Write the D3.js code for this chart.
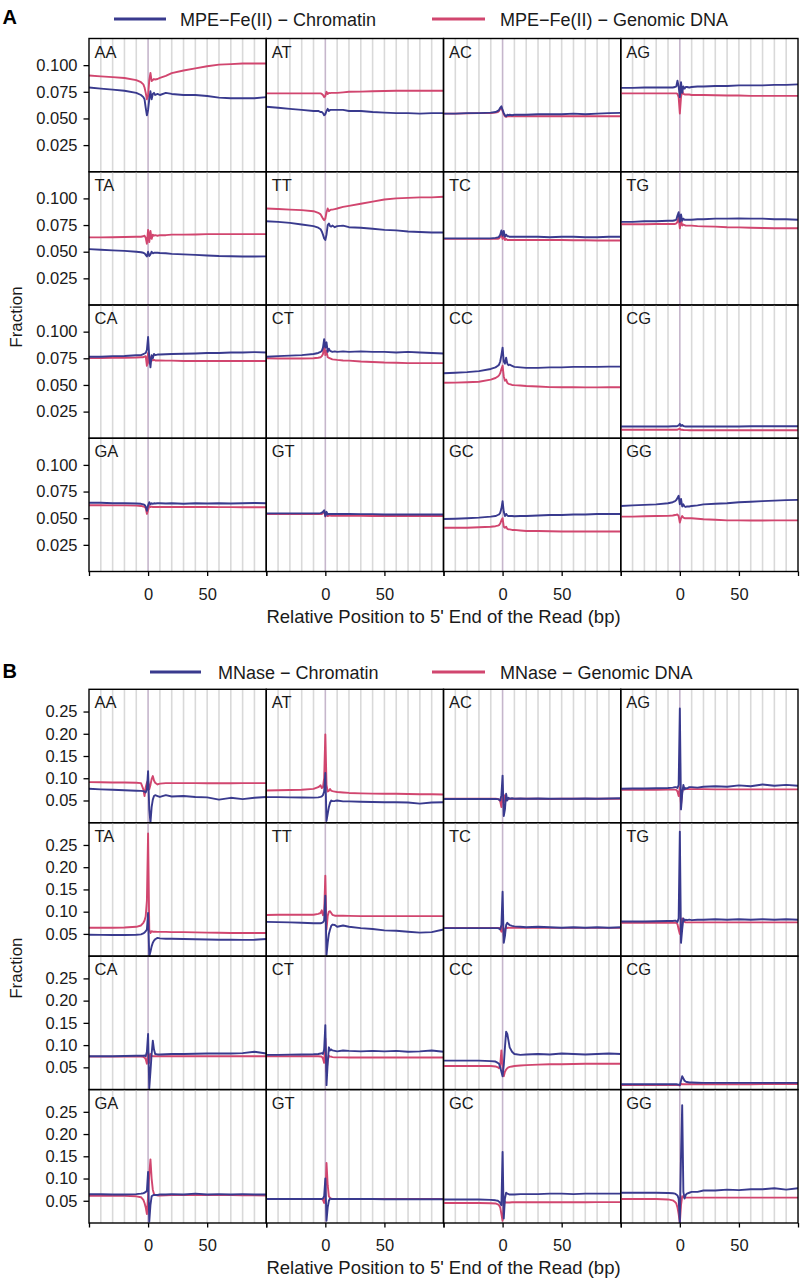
<!DOCTYPE html>
<html><head><meta charset="utf-8">
<script src="https://cdn.jsdelivr.net/npm/d3@7"></script>
<style>body{margin:0;background:#fff;} svg{display:block;font-family:"Liberation Sans",Arial,Helvetica,sans-serif;}</style>
</head><body>
<svg id="chart" width="807" height="1282"></svg>
<script>
// ---------------- DATA ----------------
const dinucleotides = ["AA","AT","AC","AG","TA","TT","TC","TG","CA","CT","CC","CG","GA","GT","GC","GG"];
const positions = [-50,-40,-30,-20,-10,-6,-4,-3,-2,-1, 0, 1,2,3,4,5,6,8,10,15,20,30,40,50,60,70,80,90,100];

const mpeChromatin = [
 [.079,.078,.077,.076,.074,.072,.070,.068,.060,.053, .058, .068,.0755,.068,.073,.074,.072,.073,.072,.074,.073,.072,.072,.071,.0695,.069,.069,.069,.070],
 [.061,.060,.059,.058,.057,.057,.056,.056,.055,.053, .054, .057,.059,.057,.058,.058,.058,.058,.058,.058,.057,.057,.056,.0555,.055,.055,.0545,.055,.055],
 [.0545,.0545,.055,.055,.0555,.056,.057,.058,.060,.0615, .058, .055,.053,.052,.0535,.053,.0535,.053,.0535,.0535,.0535,.054,.054,.054,.0545,.054,.0545,.055,.0552],
 [.0787,.0787,.079,.079,.079,.079,.0795,.080,.0855,.080, .070, .084,.074,.080,.078,.0795,.0795,.079,.0795,.080,.080,.0805,.0805,.081,.081,.081,.0815,.0815,.082],
 [.0524,.0518,.0512,.0508,.050,.0495,.049,.0485,.047,.0455, .050, .046,.0475,.050,.0485,.049,.049,.049,.0488,.0485,.048,.0475,.047,.0465,.046,.0458,.0455,.0455,.0456],
 [.0786,.078,.077,.0755,.074,.0725,.071,.069,.066,.0625, .061, .066,.075,.0765,.074,.0735,.0745,.073,.074,.0745,.073,.0725,.0715,.0705,.070,.069,.0685,.068,.068],
 [.0625,.0625,.0625,.0625,.0625,.063,.0635,.064,.066,.070, .065, .0695,.064,.066,.0645,.0645,.064,.064,.064,.064,.064,.064,.0635,.064,.064,.0635,.0635,.064,.064],
 [.078,.078,.0785,.0785,.079,.079,.0795,.080,.084,.087, .078, .085,.079,.081,.080,.080,.080,.080,.080,.0805,.0805,.081,.081,.0812,.081,.081,.0805,.0805,.080],
 [.0764,.0765,.077,.0772,.0778,.078,.079,.0795,.080,.083, .095, .076,.0665,.078,.075,.079,.078,.0785,.0785,.0788,.079,.0792,.0795,.080,.080,.0805,.0805,.0808,.0805],
 [.0765,.077,.0775,.078,.079,.080,.081,.082,.085,.093, .085, .090,.081,.084,.082,.0815,.081,.0815,.081,.0815,.081,.0815,.081,.081,.0805,.081,.0805,.080,.0795],
 [.061,.0615,.062,.063,.065,.0665,.068,.069,.072,.078, .085, .072,.070,.0755,.070,.0685,.069,.068,.067,.0665,.066,.066,.0665,.0665,.067,.067,.067,.0672,.0672],
 [.011,.011,.011,.011,.011,.0112,.0112,.0113,.0115,.012, .0135, .0115,.0125,.0115,.0112,.011,.011,.011,.011,.011,.011,.011,.011,.011,.0112,.0112,.0112,.0112,.0112],
 [.0645,.0645,.064,.064,.0638,.0635,.063,.0625,.061,.057, .062, .065,.063,.064,.0635,.064,.0638,.064,.064,.0638,.064,.0635,.064,.0638,.064,.0638,.064,.0642,.064],
 [.0545,.0545,.0545,.0545,.0545,.0545,.0548,.0552,.056,.0575, .052, .056,.0535,.054,.054,.054,.054,.054,.054,.054,.054,.0538,.0538,.0535,.0535,.0535,.0535,.0535,.0535],
 [.0492,.0495,.050,.0505,.0515,.052,.053,.0535,.055,.059, .066, .056,.052,.054,.0525,.052,.052,.052,.0518,.052,.052,.0525,.053,.053,.0535,.0535,.054,.054,.054],
 [.0615,.062,.0625,.063,.064,.065,.066,.067,.069,.071, .063, .068,.061,.063,.061,.0605,.061,.061,.0615,.062,.063,.0635,.064,.065,.0655,.066,.0665,.067,.0672]
];
const mpeGenomic = [
 [.0903,.0895,.0888,.088,.086,.084,.082,.079,.074,.068, .071, .086,.0927,.085,.086,.087,.0865,.087,.088,.090,.0925,.095,.097,.099,.1005,.101,.1015,.1015,.1015],
 [.0735,.0735,.0735,.0735,.0735,.0735,.0735,.073,.072,.070, .071, .075,.073,.074,.0738,.074,.074,.074,.074,.0745,.075,.0752,.0755,.0758,.076,.076,.076,.076,.076],
 [.0545,.0545,.0548,.055,.055,.0555,.056,.057,.059,.060, .057, .054,.052,.0515,.052,.052,.052,.052,.052,.052,.052,.052,.052,.052,.052,.052,.052,.052,.052],
 [.0735,.0735,.0735,.0735,.0735,.0735,.0735,.0735,.073,.070, .0547, .070,.076,.073,.0725,.0725,.0725,.0725,.072,.072,.072,.0718,.0715,.0715,.0712,.0712,.0712,.0712,.0712],
 [.0634,.0634,.0636,.0638,.064,.064,.0645,.065,.063,.0575, .0705, .059,.0695,.062,.066,.065,.0655,.065,.0655,.0655,.066,.066,.0662,.0665,.0665,.0665,.0665,.0665,.0665],
 [.0905,.090,.0895,.089,.088,.0865,.085,.083,.081,.0795, .081, .087,.0905,.088,.089,.0895,.0895,.090,.0905,.092,.093,.095,.097,.099,.100,.1005,.101,.101,.1015],
 [.062,.062,.062,.062,.062,.062,.062,.0625,.064,.0665, .062, .066,.061,.062,.061,.061,.061,.061,.061,.061,.061,.061,.061,.061,.0608,.0608,.0605,.0605,.0605],
 [.0758,.0758,.0758,.076,.076,.076,.076,.0765,.078,.0825, .072, .080,.0745,.0755,.075,.0745,.0745,.0745,.0745,.074,.0738,.0735,.073,.0728,.0725,.0722,.072,.072,.072],
 [.0752,.0752,.0755,.0755,.0757,.076,.076,.0765,.077,.068, .080, .070,.076,.0735,.073,.0735,.073,.073,.073,.0728,.0728,.0725,.0725,.0724,.0724,.0724,.0724,.0724,.0724],
 [.075,.0748,.0748,.0748,.075,.0755,.076,.077,.079,.088, .078, .082,.076,.0755,.075,.0745,.074,.0738,.0735,.073,.0728,.072,.0715,.071,.0708,.0705,.0705,.0705,.0705],
 [.052,.0522,.0525,.053,.055,.0565,.058,.059,.061,.065, .068, .058,.054,.055,.052,.051,.0508,.050,.0498,.0495,.049,.0485,.048,.0478,.0478,.0477,.0477,.0478,.0478],
 [.008,.008,.008,.008,.008,.008,.008,.008,.008,.0085, .009, .0078,.008,.0077,.0076,.0076,.0076,.0075,.0075,.0075,.0075,.0075,.0075,.0075,.0075,.0075,.0075,.0075,.0075],
 [.0622,.0622,.062,.062,.0618,.0615,.061,.0605,.0595,.054, .0575, .0615,.0605,.0608,.0605,.0605,.0605,.0605,.0605,.0605,.0605,.0605,.0605,.0605,.0604,.0604,.0603,.0603,.0603],
 [.054,.054,.054,.054,.054,.054,.054,.054,.055,.056, .0515, .054,.052,.0525,.0525,.0523,.0523,.0522,.0522,.0522,.0522,.0522,.0521,.0521,.052,.052,.052,.052,.052],
 [.041,.041,.041,.0415,.042,.0425,.043,.0435,.045,.048, .050, .042,.041,.042,.040,.0395,.0395,.039,.039,.0385,.038,.038,.0378,.0375,.0375,.0375,.0375,.0375,.0375],
 [.0515,.0515,.0518,.052,.0522,.0525,.053,.0532,.0535,.052, .046, .050,.052,.0505,.050,.050,.050,.050,.050,.0495,.049,.0485,.048,.048,.0478,.0478,.048,.048,.048]
];
const mnaseChromatin = [
 [.0764,.075,.074,.073,.072,.0715,.071,.070,.068,.075, .116, .030,.0,.035,.052,.060,.062,.060,.058,.062,.059,.060,.058,.057,.052,.056,.053,.056,.058],
 [.0576,.0575,.057,.0568,.0565,.057,.058,.059,.062,.070, .112, .004,.020,.035,.045,.050,.0486,.049,.050,.048,.048,.047,.0465,.046,.046,.0455,.043,.0455,.046],
 [.0535,.0535,.0535,.0535,.0535,.0535,.053,.052,.050,.062, .106, .015,.030,.065,.050,.056,.054,.055,.054,.0545,.054,.0545,.054,.054,.054,.0545,.054,.0545,.055],
 [.0765,.077,.077,.0775,.078,.079,.080,.080,.078,.085, .257, .030,.065,.085,.075,.078,.077,.080,.080,.079,.081,.082,.081,.084,.082,.086,.083,.085,.083],
 [.048,.0478,.0476,.0475,.048,.049,.051,.053,.056,.060, .097, .0,.010,.022,.030,.035,.038,.041,.040,.039,.039,.0385,.038,.0375,.037,.037,.0365,.037,.0385],
 [.077,.0765,.076,.075,.074,.074,.074,.075,.076,.080, .136, .003,.030,.050,.060,.068,.071,.070,.066,.069,.066,.063,.061,.058,.057,.055,.053,.054,.060],
 [.063,.063,.063,.063,.063,.063,.063,.062,.060,.070, .145, .030,.045,.070,.075,.072,.070,.068,.067,.066,.065,.066,.065,.064,.065,.064,.065,.064,.065],
 [.078,.078,.078,.0785,.079,.079,.080,.079,.077,.085, .280, .030,.060,.085,.080,.082,.081,.082,.081,.082,.082,.083,.082,.083,.082,.083,.082,.083,.082],
 [.075,.075,.075,.0755,.076,.076,.076,.0765,.075,.085, .125, .003,.040,.080,.110,.090,.080,.079,.079,.0795,.080,.080,.0805,.081,.0815,.081,.082,.085,.081],
 [.078,.078,.0785,.079,.0795,.080,.081,.082,.080,.090, .145, .010,.060,.095,.088,.090,.088,.087,.086,.088,.087,.086,.087,.086,.087,.085,.086,.088,.085],
 [.065,.065,.065,.065,.064,.063,.060,.058,.050,.040, .030, .055,.095,.130,.125,.110,.095,.085,.080,.078,.079,.080,.079,.081,.080,.079,.080,.081,.080],
 [.012,.012,.012,.012,.012,.012,.012,.012,.0115,.011, .010, .020,.030,.025,.020,.018,.017,.016,.016,.0155,.015,.015,.015,.015,.015,.015,.015,.015,.015],
 [.0645,.0645,.064,.064,.065,.066,.067,.068,.070,.072, .115, .003,.040,.060,.062,.063,.063,.063,.064,.064,.065,.064,.066,.064,.065,.064,.065,.064,.064],
 [.054,.054,.054,.054,.054,.054,.054,.054,.055,.060, .100, .005,.035,.050,.055,.054,.054,.054,.054,.054,.054,.054,.054,.0535,.0535,.0535,.0535,.0535,.0535],
 [.053,.053,.053,.053,.052,.051,.050,.048,.045,.040, .160, .010,.055,.068,.066,.065,.064,.064,.064,.065,.065,.065,.066,.066,.065,.066,.066,.066,.066],
 [.068,.068,.068,.068,.0675,.067,.066,.064,.062,.055, .0, .150,.265,.070,.055,.063,.066,.068,.070,.070,.073,.073,.075,.074,.076,.076,.078,.075,.078]
];
const mnaseGenomic = [
 [.0913,.091,.0905,.0905,.090,.089,.075,.060,.080,.090, .095, .075,.085,.098,.105,.095,.090,.086,.088,.089,.089,.089,.089,.0888,.0888,.0888,.089,.089,.089],
 [.0726,.073,.0735,.074,.076,.080,.084,.078,.080,.100, .1986, .085,.070,.072,.076,.072,.071,.070,.069,.068,.067,.066,.0655,.065,.065,.0645,.064,.064,.0636],
 [.054,.054,.054,.054,.054,.054,.0535,.052,.048,.035, .070, .045,.062,.050,.055,.053,.054,.0535,.054,.054,.054,.054,.0535,.054,.054,.054,.054,.054,.054],
 [.074,.074,.074,.074,.0745,.0745,.0745,.074,.070,.060, .080, .040,.070,.078,.075,.076,.0755,.0755,.0755,.0755,.0755,.075,.075,.075,.075,.075,.075,.075,.075],
 [.064,.064,.064,.0645,.066,.069,.075,.080,.090,.125, .276, .060,.052,.056,.055,.055,.055,.0545,.0545,.0545,.054,.054,.0535,.053,.0525,.052,.052,.052,.052],
 [.0926,.093,.093,.093,.093,.095,.097,.103,.092,.100, .181, .060,.090,.100,.101,.097,.093,.091,.091,.091,.0905,.090,.090,.090,.090,.090,.090,.090,.090],
 [.0635,.0635,.0635,.0635,.0635,.0635,.0635,.0635,.062,.055, .080, .045,.060,.066,.063,.064,.0635,.0635,.0635,.0635,.0635,.0635,.0635,.0635,.0635,.0635,.0635,.0635,.0635],
 [.075,.075,.075,.075,.075,.075,.075,.075,.072,.060, .050, .075,.085,.078,.077,.076,.076,.076,.076,.076,.076,.076,.076,.076,.076,.076,.076,.076,.076],
 [.074,.074,.074,.074,.074,.074,.0735,.072,.068,.058, .085, .060,.080,.076,.075,.075,.075,.075,.075,.075,.075,.075,.075,.075,.075,.075,.075,.075,.075],
 [.075,.075,.075,.075,.075,.075,.0745,.074,.070,.060, .115, .040,.065,.076,.074,.074,.073,.0725,.0725,.0725,.072,.072,.072,.072,.072,.072,.072,.072,.072],
 [.053,.053,.053,.053,.053,.052,.050,.048,.055,.088, .050, .030,.040,.045,.048,.050,.051,.052,.053,.054,.055,.056,.057,.057,.0575,.058,.058,.058,.058],
 [.010,.010,.010,.010,.010,.010,.010,.010,.010,.010, .009, .013,.012,.012,.012,.012,.012,.012,.012,.012,.012,.012,.012,.012,.012,.0125,.0125,.0125,.0125],
 [.061,.061,.061,.061,.060,.058,.052,.045,.035,.020, .060, .110,.143,.100,.075,.065,.063,.062,.062,.0625,.063,.063,.063,.063,.063,.063,.0625,.0625,.062],
 [.054,.054,.054,.054,.054,.054,.054,.054,.052,.045, .060, .135,.085,.060,.056,.055,.054,.054,.054,.054,.054,.054,.054,.054,.054,.054,.054,.054,.054],
 [.045,.045,.045,.045,.0445,.044,.042,.040,.035,.020, .005, .040,.048,.046,.046,.046,.046,.0465,.0465,.0465,.0465,.0465,.0465,.0465,.0465,.0465,.047,.047,.047],
 [.054,.054,.054,.054,.053,.051,.047,.044,.035,.020, .0, .040,.060,.058,.057,.057,.057,.057,.057,.057,.057,.057,.057,.057,.057,.057,.057,.057,.057]
];

const xDomain = [-50, 100];
const gridPositions = [-40,-30,-20,-10,10,20,30,40,50,60,70,80,90];
const xTickValues = [-50, 0, 50, 100];
const xTickLabels = ["", "0", "50", ""];
const mpeYDomain = [0, 0.125];
const mpeYTicks = [0.025, 0.050, 0.075, 0.100];
const mnaseYDomain = [0, 0.3];
const mnaseYTicks = [0.05, 0.10, 0.15, 0.20, 0.25];
const mpeLegend = ["MPE\u2212Fe(II) \u2212 Chromatin", "MPE\u2212Fe(II) \u2212 Genomic DNA"];
const mnaseLegend = ["MNase \u2212 Chromatin", "MNase \u2212 Genomic DNA"];
const xTitle = "Relative Position to 5' End of the Read (bp)";
const yTitle = "Fraction";

// ---------------- LAYOUT / STYLE ----------------
const BLUE = "#393a8e", PINK = "#d1466f";
const GRID = "#d9d9d9", ZERO = "#c6b6cc";
const left = 89, right = 798, colW = (right - left) / 4;

const panels = [
  {letter:"A", letterY:23.5, top:38.5, bottom:571.5, legendY:19, legend:mpeLegend,
   lx:[[114,166,180],[432,485,500]], chrom:mpeChromatin, gen:mpeGenomic,
   yDomain:mpeYDomain, yTicks:mpeYTicks, fmt:".3f"},
  {letter:"B", letterY:677.5, top:689.3, bottom:1223, legendY:672, legend:mnaseLegend,
   lx:[[150,201,218],[432,485,500]], chrom:mnaseChromatin, gen:mnaseGenomic,
   yDomain:mnaseYDomain, yTicks:mnaseYTicks, fmt:".2f"}
];

const svg = d3.select("#chart");
svg.append("rect").attr("width",807).attr("height",1282).attr("fill","#fff");
const defs = svg.append("defs");

[mpeChromatin, mpeGenomic, mnaseChromatin, mnaseGenomic].forEach((arr, k) => {
  arr.forEach((s, i) => { if (s.length !== positions.length) console.error("length mismatch", k, i, s.length); });
});

panels.forEach((p, pi) => {
  const g = svg.append("g");
  const rowH = (p.bottom - p.top) / 4;

  g.append("text").attr("x", 2.5).attr("y", p.letterY)
    .attr("font-size", 20).attr("font-weight", "bold").text(p.letter);

  [BLUE, PINK].forEach((col, k) => {
    const [x1, x2, tx] = p.lx[k];
    g.append("line").attr("x1", x1).attr("x2", x2).attr("y1", p.legendY).attr("y2", p.legendY)
      .attr("stroke", col).attr("stroke-width", 3);
    g.append("text").attr("x", tx).attr("y", p.legendY + 6.5).attr("font-size", 18)
      .attr("fill", "#1a1a1a").text(p.legend[k]);
  });

  dinucleotides.forEach((dn, i) => {
    const r = Math.floor(i / 4), c = i % 4;
    const x0 = left + c * colW, y0 = p.top + r * rowH;
    const xs = d3.scaleLinear().domain(xDomain).range([x0, x0 + colW]);
    const ys = d3.scaleLinear().domain(p.yDomain).range([y0 + rowH, y0]);
    const clipId = `clip-${pi}-${i}`;
    defs.append("clipPath").attr("id", clipId).append("rect")
      .attr("x", x0).attr("y", y0).attr("width", colW).attr("height", rowH);

    const fg = g.append("g");
    fg.selectAll("line.grid").data(gridPositions).join("line").attr("class","grid")
      .attr("x1", d => xs(d)).attr("x2", d => xs(d)).attr("y1", y0).attr("y2", y0 + rowH)
      .attr("stroke", GRID).attr("stroke-width", 1.6);
    fg.append("line").attr("x1", xs(0)).attr("x2", xs(0)).attr("y1", y0).attr("y2", y0 + rowH)
      .attr("stroke", ZERO).attr("stroke-width", 1.6);

    const line = d3.line().x((d, j) => xs(positions[j])).y(d => ys(d));
    const lg = fg.append("g").attr("clip-path", `url(#${clipId})`);
    lg.append("path").attr("d", line(p.gen[i])).attr("fill", "none")
      .attr("stroke", PINK).attr("stroke-width", 1.9).attr("stroke-linejoin", "round");
    lg.append("path").attr("d", line(p.chrom[i])).attr("fill", "none")
      .attr("stroke", BLUE).attr("stroke-width", 1.9).attr("stroke-linejoin", "round");

    fg.append("rect").attr("x", x0).attr("y", y0).attr("width", colW).attr("height", rowH)
      .attr("fill", "none").attr("stroke", "#000").attr("stroke-width", 1.4);
    fg.append("text").attr("x", x0 + 5.5).attr("y", y0 + 19).attr("font-size", 16.5)
      .attr("fill", "#1a1a1a").text(dn);

    if (c === 0) {
      const ax = fg.append("g").attr("transform", `translate(${x0},0)`)
        .call(d3.axisLeft(ys).tickValues(p.yTicks).tickFormat(d3.format(p.fmt)).tickSize(5.5).tickPadding(6));
      ax.select(".domain").remove();
      ax.selectAll("line").attr("stroke", "#000").attr("stroke-width", 1.3);
      ax.selectAll("text").attr("font-size", 16.5).attr("fill", "#1a1a1a");
      ax.attr("font-family", null);
    }
    if (r === 3) {
      const ax = fg.append("g").attr("transform", `translate(0,${y0 + rowH})`)
        .call(d3.axisBottom(xs).tickValues(xTickValues).tickFormat((d, j) => xTickLabels[j]).tickSize(4.5).tickPadding(12));
      ax.select(".domain").remove();
      ax.selectAll("line").attr("stroke", "#000").attr("stroke-width", 1.3);
      ax.selectAll("text").attr("font-size", 16.5).attr("fill", "#1a1a1a");
      ax.attr("font-family", null);
    }
  });

  g.append("text").attr("x", (left + right) / 2).attr("y", p.bottom + 51)
    .attr("text-anchor", "middle").attr("font-size", 18.5).attr("fill", "#1a1a1a").text(xTitle);
  g.append("text").attr("transform", `translate(21.5,${(p.top + p.bottom) / 2 + 12}) rotate(-90)`)
    .attr("text-anchor", "middle").attr("font-size", 17).attr("fill", "#1a1a1a").text(yTitle);
});
</script>
</body></html>
